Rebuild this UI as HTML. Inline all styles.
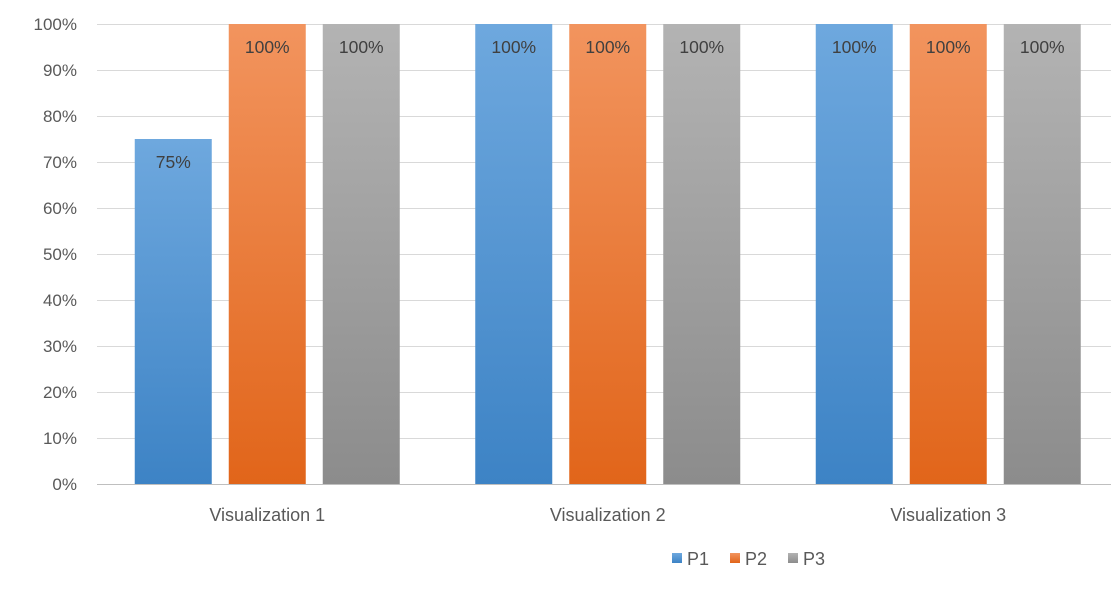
<!DOCTYPE html>
<html><head><meta charset="utf-8"><style>
body{margin:0;background:#fff;font-family:"Liberation Sans",sans-serif}
</style></head><body>
<svg id="chart" width="1111" height="604" xmlns="http://www.w3.org/2000/svg">
<defs>
<linearGradient id="gP1" x1="0" y1="0" x2="0" y2="1"><stop offset="0" stop-color="#6ea8de"/><stop offset="1" stop-color="#3d83c5"/></linearGradient>
<linearGradient id="gP2" x1="0" y1="0" x2="0" y2="1"><stop offset="0" stop-color="#f2945e"/><stop offset="1" stop-color="#e1651a"/></linearGradient>
<linearGradient id="gP3" x1="0" y1="0" x2="0" y2="1"><stop offset="0" stop-color="#b3b3b3"/><stop offset="1" stop-color="#8c8c8c"/></linearGradient>
</defs>
<g id="grid"></g><g id="bars"></g><g id="labels"></g><g id="legend"></g>
</svg>
<script>
const categories = ["Visualization 1","Visualization 2","Visualization 3"];
const seriesNames = ["P1","P2","P3"];
const p1Values = [75,100,100];
const p2Values = [100,100,100];
const p3Values = [100,100,100];
const yTicks = [0,10,20,30,40,50,60,70,80,90,100];
const NS="http://www.w3.org/2000/svg";
const plotL=97, plotR=1111, y0=484, y100=24;
const yScale=v=>y0-(v/100)*(y0-y100);
const catW=340.5;
const barW=77, gap=17;
function mk(tag,attrs,parent){const e=document.createElementNS(NS,tag);for(const k in attrs)e.setAttribute(k,attrs[k]);parent.appendChild(e);return e;}
const grid=document.getElementById('grid'),bars=document.getElementById('bars'),labels=document.getElementById('labels'),legend=document.getElementById('legend');
yTicks.forEach(t=>{
  const y=yScale(t)+0.5;
  const l=mk('line',{x1:plotL,x2:plotR,y1:y,y2:y,stroke:t===0?'#bfbfbf':'#d9d9d9','stroke-width':1},grid);
  
  
  const tx=mk('text',{x:77,y:yScale(t)+6,'text-anchor':'end','font-size':17,fill:'#595959'},grid);
  tx.textContent=t+'%';
  
  
});
const series=[p1Values,p2Values,p3Values];
categories.forEach((c,ci)=>{
  const cx=plotL+catW*(ci+0.5);
  const groupW=3*barW+2*gap;
  series.forEach((vals,si)=>{
    const x=cx-groupW/2+si*(barW+gap);
    const y=yScale(vals[ci]);
    const r=mk('rect',{x:x,y:y,width:barW,height:y0-y,fill:'url(#gP'+(si+1)+')'},bars);
    
    
    const t=mk('text',{x:x+barW/2,y:y+29,'text-anchor':'middle','font-size':17.5,fill:'#404040'},labels);
    t.textContent=vals[ci]+'%';
    
    
  });
  const cl=mk('text',{x:cx,y:521,'text-anchor':'middle','font-size':18,fill:'#595959'},labels);
  cl.textContent=c;
  
  
});
seriesNames.forEach((n,i)=>{
  const x=672+i*58;
  const sq=mk('rect',{x:x,y:553,width:10,height:10,fill:'url(#gP'+(i+1)+')'},legend);
  
  
  const t=mk('text',{x:x+15,y:565,'font-size':18,fill:'#595959'},legend);
  t.textContent=n;
  
  
});
</script>
</body></html>
